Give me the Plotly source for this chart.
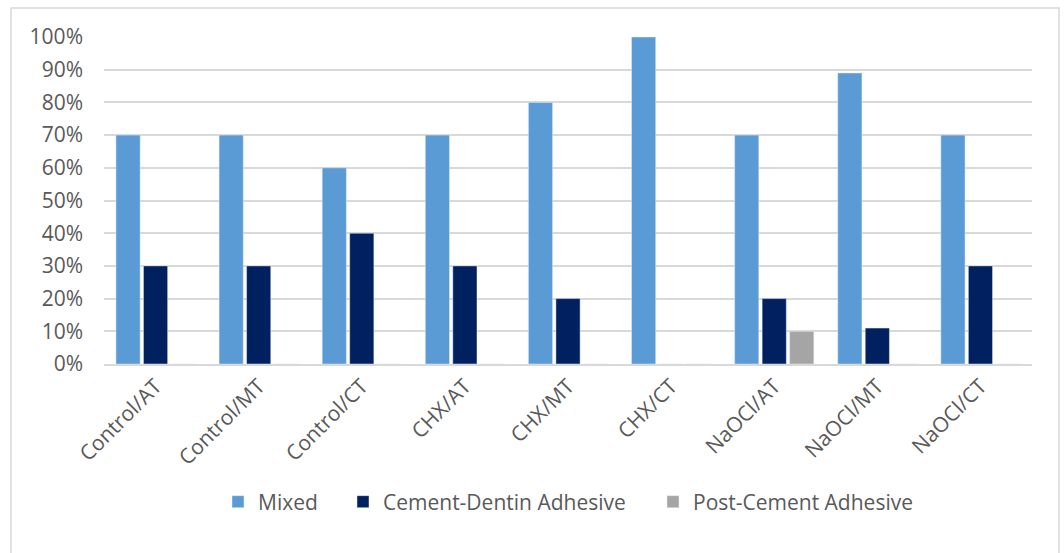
import plotly.graph_objects as go

categories = ["Control/AT", "Control/MT", "Control/CT", "CHX/AT", "CHX/MT",
              "CHX/CT", "NaOCl/AT", "NaOCl/MT", "NaOCl/CT"]
mixed = [0.70, 0.70, 0.60, 0.70, 0.80, 1.00, 0.70, 0.89, 0.70]
cement_dentin = [0.30, 0.30, 0.40, 0.30, 0.20, 0.00, 0.20, 0.11, 0.30]
post_cement = [0.00, 0.00, 0.00, 0.00, 0.00, 0.00, 0.10, 0.00, 0.00]
y_ticks = [0, 0.1, 0.2, 0.3, 0.4, 0.5, 0.6, 0.7, 0.8, 0.9, 1.0]

FONT = "Open Sans, sans-serif"
TXT = "#595959"
GRID = "#D9D9D9"
FS = 21

fig = go.Figure()
fig.add_trace(go.Bar(name="Mixed", x=categories, y=mixed, marker_color="#5B9BD5",
                     legend="legend"))
fig.add_trace(go.Bar(name="Cement-Dentin Adhesive", x=categories, y=cement_dentin,
                     marker_color="#002060", legend="legend2"))
fig.add_trace(go.Bar(name="Post-Cement Adhesive", x=categories, y=post_cement,
                     marker_color="#A5A5A5", legend="legend3"))

W, H = 1064, 553
L, R, T, B = 104, 32, 37, 189
pw = W - L - R
ph = H - T - B

def px_x(x):
    return (x - L) / pw

def px_y(y):
    return (H - B - y) / ph

def leg(text_left):
    return dict(orientation="h", x=px_x(text_left - 40), xanchor="left",
                y=px_y(502), yanchor="middle",
                font=dict(family=FONT, size=FS, color=TXT),
                itemwidth=30, bgcolor="rgba(0,0,0,0)", borderwidth=0)

fig.update_layout(
    width=W, height=H,
    margin=dict(l=L, r=R, t=T, b=B, pad=0),
    paper_bgcolor="white", plot_bgcolor="white",
    barmode="group", bargap=0.2, bargroupgap=0.12,
    font=dict(family=FONT, size=FS, color=TXT),
    showlegend=True,
    legend=leg(258),
    legend2=leg(383),
    legend3=leg(693),
    xaxis=dict(tickangle=-45, showgrid=False, showline=True, linecolor=GRID, linewidth=1.5,
               ticks="", tickfont=dict(family=FONT, size=FS, color=TXT)),
    yaxis=dict(range=[0, 1.0], tickvals=y_ticks, tickformat=".0%", showgrid=True,
               gridcolor=GRID, gridwidth=1.5, zeroline=False, showline=False, ticks="",
               ticklabelstandoff=20,
               tickfont=dict(family=FONT, size=FS, color=TXT)),
    shapes=[dict(type="rect", xref="paper", yref="paper",
                 x0=px_x(11), x1=px_x(1059), y0=px_y(560), y1=px_y(8),
                 line=dict(color=GRID, width=1.5), fillcolor="rgba(0,0,0,0)", layer="below")],
)

fig.write_html("out.html")
